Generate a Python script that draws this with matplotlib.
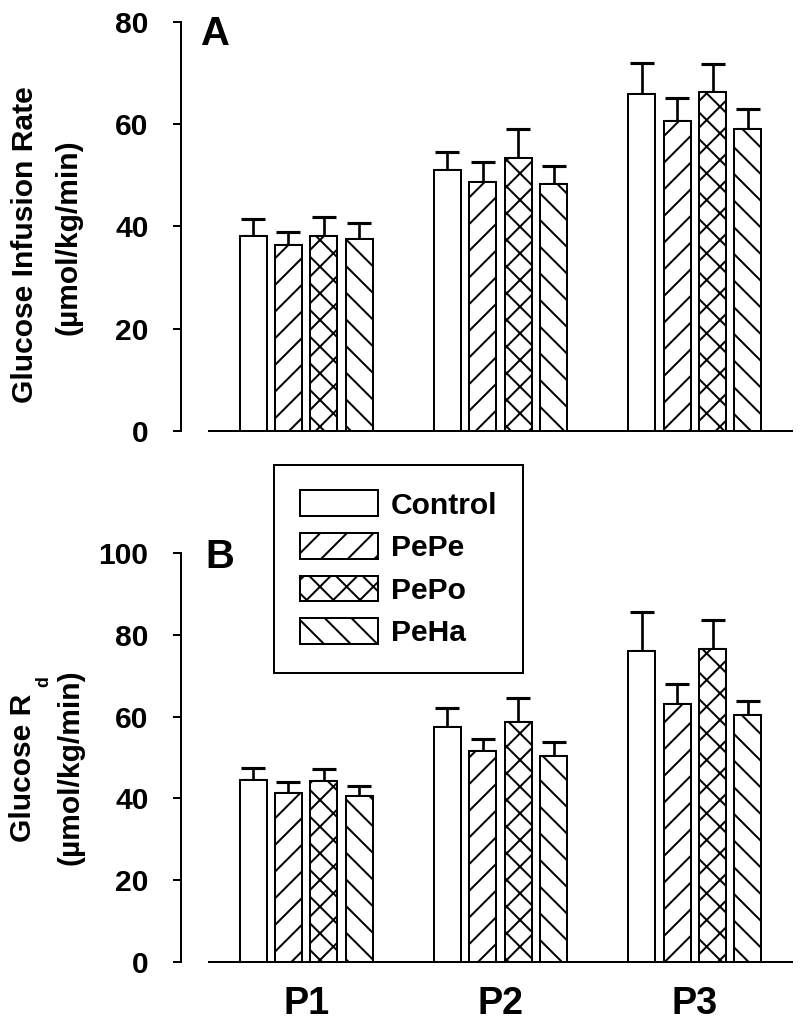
#Glucose infusion rate and glucose Rd per period, four groups

#Import libraries
import numpy as np
import matplotlib.pyplot as plt

plt.rcParams['font.family'] = ['Liberation Sans', 'DejaVu Sans']
plt.rcParams['font.weight'] = 'bold'
plt.rcParams['hatch.linewidth'] = 0.9
plt.rcParams['hatch.color'] = 'black'

#Data
periods = ['P1', 'P2', 'P3']
groups = ['Control', 'PePe', 'PePo', 'PeHa']
hatches = ['', '//', 'xx', '\\\\']

#Panel A: glucose infusion rate (mean, SE)
gir_control = [38.1, 51.0, 65.8]
gir_pepe = [36.3, 48.6, 60.5]
gir_pepo = [38.1, 53.4, 66.3]
gir_peha = [37.5, 48.2, 59.0]
gir_control_se = [3.3, 3.5, 6.2]
gir_pepe_se = [2.6, 3.9, 4.5]
gir_pepo_se = [3.8, 5.6, 5.4]
gir_peha_se = [3.2, 3.5, 3.9]

#Panel B: glucose Rd (mean, SE)
rd_control = [44.5, 57.5, 76.1]
rd_pepe = [41.2, 51.6, 63.1]
rd_pepo = [44.2, 58.7, 76.5]
rd_peha = [40.6, 50.4, 60.3]
rd_control_se = [3.0, 4.7, 9.6]
rd_pepe_se = [2.7, 3.0, 5.0]
rd_pepo_se = [2.9, 5.8, 7.1]
rd_peha_se = [2.3, 3.4, 3.6]

gir_means = [gir_control, gir_pepe, gir_pepo, gir_peha]
gir_errs = [gir_control_se, gir_pepe_se, gir_pepo_se, gir_peha_se]
rd_means = [rd_control, rd_pepe, rd_pepo, rd_peha]
rd_errs = [rd_control_se, rd_pepe_se, rd_pepo_se, rd_peha_se]

#Figure: dpi 160 so the hatch spacing matches
W, H = 800, 1028
fig = plt.figure(figsize=(W / 160, H / 160), dpi=160)
ax1 = fig.add_axes([209 / W, 1 - 431 / H, 583 / W, 409.3 / H])
ax2 = fig.add_axes([209 / W, 1 - 961.7 / H, 583 / W, 408.4 / H])

x = np.arange(len(periods))
width = 0.138
step = 0.182


def draw_panel(ax, means, errs, ymax):
    for i in range(len(groups)):
        pos = x + (i - 1.5) * step
        ax.bar(pos, means[i], width=width, color='white', edgecolor='black',
               linewidth=0.9, hatch=hatches[i], label=groups[i], zorder=2)
        ax.errorbar(pos, means[i], yerr=[np.zeros(len(x)), errs[i]], fmt='none',
                    ecolor='black', elinewidth=1.2, capsize=5.4, capthick=1.4,
                    zorder=1)
    ax.set_xlim(-0.5, 2.5)
    ax.set_ylim(0, ymax)
    ax.set_yticks(np.arange(0, ymax + 1, 20))
    ax.spines['top'].set_visible(False)
    ax.spines['right'].set_visible(False)
    ax.spines['left'].set_position(('outward', 12.6))
    ax.spines['left'].set_linewidth(0.9)
    ax.spines['bottom'].set_linewidth(0.9)
    ax.tick_params(axis='y', direction='out', length=3.6, width=0.9, pad=11,
                   labelsize=13.5)
    ax.tick_params(axis='x', length=0)
    ax.set_xticks(x)


draw_panel(ax1, gir_means, gir_errs, 80)
draw_panel(ax2, rd_means, rd_errs, 100)
ax1.set_xticklabels([])
ax2.set_xticklabels(periods, fontsize=17)
ax2.tick_params(axis='x', pad=11)

#Y labels
fig.text(25 / W, 1 - 245 / H, 'Glucose Infusion Rate', rotation=90,
         ha='center', va='center', fontsize=13.5)
fig.text(69 / W, 1 - 237 / H, '(\u00b5mol/kg/min)', rotation=90,
         ha='center', va='center', fontsize=13.5)
fig.text(23 / W, 1 - 768 / H, 'Glucose R', rotation=90,
         ha='center', va='center', fontsize=13.5)
fig.text(43.5 / W, 1 - 682 / H, 'd', rotation=90,
         ha='center', va='center', fontsize=8)
fig.text(71 / W, 1 - 767 / H, '(\u00b5mol/kg/min)', rotation=90,
         ha='center', va='center', fontsize=13.5)

#Panel letters
fig.text(201 / W, 1 - 45 / H, 'A', fontsize=18, ha='left', va='baseline')
fig.text(205 / W, 1 - 568 / H, 'B', fontsize=18, ha='left', va='baseline')

#Legend
leg = ax2.legend(loc='upper left', bbox_to_anchor=(274 / W, 1 - 465 / H),
                 bbox_transform=fig.transFigure, borderaxespad=0,
                 fontsize=13.5, handlelength=2.6, handleheight=0.93,
                 labelspacing=0.45, handletextpad=0.45, borderpad=0.85,
                 fancybox=False, framealpha=1, edgecolor='black')
leg.get_frame().set_linewidth(0.9)

plt.savefig('out.png', dpi=160)
